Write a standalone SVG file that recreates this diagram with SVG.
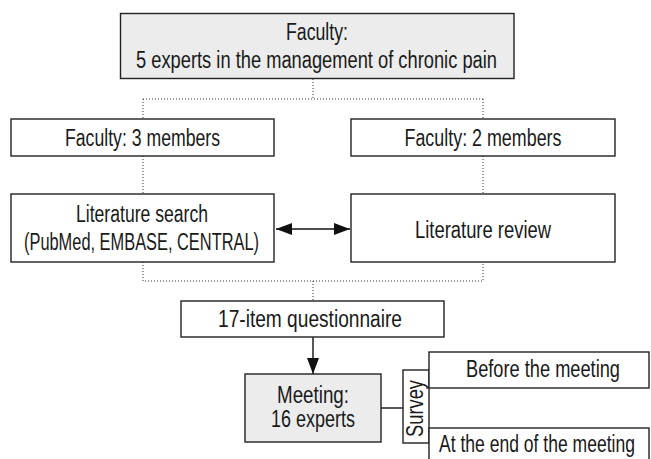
<svg xmlns="http://www.w3.org/2000/svg" width="651" height="459" viewBox="0 0 651 459">
<defs>
<style>
.box{fill:#fff;stroke:#222;stroke-width:1.4}
.gray{fill:#ececec}
.dot{fill:none;stroke:#333;stroke-width:1;stroke-dasharray:1 2}
.solid{fill:none;stroke:#111;stroke-width:1.4}
text{font-family:"Liberation Sans Narrow","Liberation Sans",Arial,sans-serif;font-size:23.5px;fill:#1a1a1a;text-anchor:middle}
</style>
<marker id="ah" viewBox="0 0 16 12" markerWidth="16" markerHeight="12" refX="16" refY="6" orient="auto-start-reverse" markerUnits="userSpaceOnUse">
<path d="M0,0 L16,6 L0,12 Z" fill="#111"/>
</marker>
</defs>
<rect width="651" height="459" fill="#fff"/>
<g id="connectors">
<path class="dot" d="M313 79 V99 M143 99 H483 M143 99 V119 M483 99 V119"/>
<path class="dot" d="M143 156 V194 M483 156 V194"/>
<path class="dot" d="M143 262 V281 H483 V262 M313 281 V301"/>
<path class="solid" d="M276 229 H350" marker-start="url(#ah)" marker-end="url(#ah)"/>
<path class="solid" d="M313 337 V374" marker-end="url(#ah)"/>
<path class="solid" d="M381 408 H403"/>
</g>
<g id="faculty">
<rect class="box gray" x="120.5" y="13.5" width="393.5" height="65"/>
<text x="317" y="39.5" textLength="62" lengthAdjust="spacingAndGlyphs">Faculty:</text>
<text x="316.5" y="68" textLength="361" lengthAdjust="spacingAndGlyphs">5 experts in the management of chronic pain</text>
</g>
<g id="faculty3">
<rect class="box" x="11" y="119" width="263" height="37"/>
<text x="142.5" y="146" textLength="155" lengthAdjust="spacingAndGlyphs">Faculty: 3 members</text>
</g>
<g id="faculty2">
<rect class="box" x="351" y="119" width="264" height="37"/>
<text x="483" y="146" textLength="157" lengthAdjust="spacingAndGlyphs">Faculty: 2 members</text>
</g>
<g id="search">
<rect class="box" x="11" y="194" width="263" height="68"/>
<text x="142" y="221.5" textLength="132" lengthAdjust="spacingAndGlyphs">Literature search</text>
<text x="141.5" y="250" textLength="235" lengthAdjust="spacingAndGlyphs">(PubMed, EMBASE, CENTRAL)</text>
</g>
<g id="review">
<rect class="box" x="351" y="194" width="264" height="68"/>
<text x="483" y="238" textLength="136" lengthAdjust="spacingAndGlyphs">Literature review</text>
</g>
<g id="questionnaire">
<rect class="box" x="181" y="301" width="263" height="36"/>
<text x="310" y="327" textLength="184" lengthAdjust="spacingAndGlyphs">17-item questionnaire</text>
</g>
<g id="meeting">
<rect class="box gray" x="245" y="374" width="136" height="68"/>
<text x="313" y="403" textLength="72" lengthAdjust="spacingAndGlyphs">Meeting:</text>
<text x="313" y="427" textLength="84" lengthAdjust="spacingAndGlyphs">16 experts</text>
</g>
<g id="survey">
<rect class="box" x="403" y="370" width="26" height="73"/>
<text transform="translate(423 408.5) rotate(-90)" x="0" y="0" textLength="57" lengthAdjust="spacingAndGlyphs">Survey</text>
</g>
<g id="before">
<rect class="box" x="429" y="352" width="220" height="36"/>
<text x="543" y="377" textLength="154" lengthAdjust="spacingAndGlyphs">Before the meeting</text>
</g>
<g id="end">
<rect class="box" x="429" y="428" width="220" height="40"/>
<text x="537" y="452" textLength="196" lengthAdjust="spacingAndGlyphs">At the end of the meeting</text>
</g>
</svg>
